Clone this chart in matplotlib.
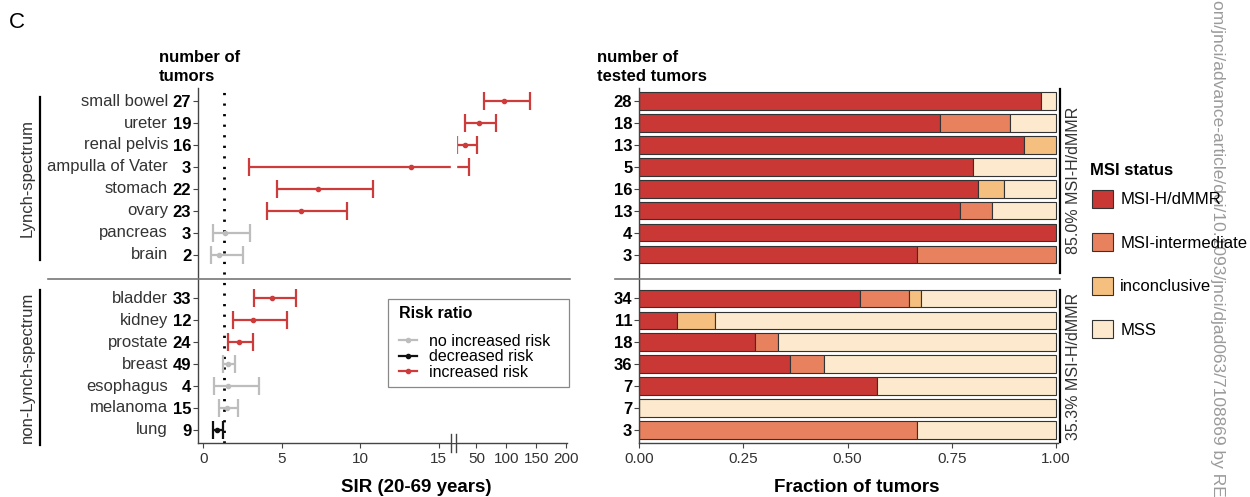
import numpy as np
import matplotlib
matplotlib.use("Agg")
import matplotlib.pyplot as plt
from matplotlib.lines import Line2D
from matplotlib.patches import Patch, Rectangle
from matplotlib.transforms import blended_transform_factory

plt.rcParams['font.family'] = ['Liberation Sans', 'DejaVu Sans']

# ---- data ----
tumor_names = ['small bowel', 'ureter', 'renal pelvis', 'ampulla of Vater', 'stomach',
               'ovary', 'pancreas', 'brain', 'bladder', 'kidney', 'prostate', 'breast',
               'esophagus', 'melanoma', 'lung']
groups = ['Lynch'] * 8 + ['non-Lynch'] * 7
n_tumors = [27, 19, 16, 3, 22, 23, 3, 2, 33, 12, 24, 49, 4, 15, 9]
sir = [95.5, 53.8, 31.7, 13.2, 7.28, 6.22, 1.38, 1.02, 4.35, 3.18, 2.29, 1.59, 1.59, 1.49, 0.89]
ci_low = [62.0, 31.7, 17.7, 2.91, 4.71, 4.04, 0.60, 0.51, 3.23, 1.87, 1.59, 1.27, 0.68, 1.00, 0.60]
ci_high = [138.8, 83.3, 50.5, 37.7, 10.78, 9.13, 2.95, 2.51, 5.90, 5.31, 3.18, 2.02, 3.56, 2.23, 1.23]
risk = ['increased'] * 6 + ['none', 'none'] + ['increased'] * 3 + ['none', 'none', 'none', 'decreased']
sir_ref = 1.34
sir_ticks = [0, 5, 10, 15, 50, 100, 150, 200]

n_tested = [28, 18, 13, 5, 16, 13, 4, 3, 34, 11, 18, 36, 7, 7, 3]
msi_h = [27, 13, 12, 4, 13, 10, 4, 2, 18, 1, 5, 13, 4, 0, 0]
msi_int = [0, 3, 0, 0, 0, 1, 0, 1, 4, 0, 1, 3, 0, 0, 2]
inconcl = [0, 0, 1, 0, 1, 0, 0, 0, 1, 1, 0, 0, 0, 0, 0]
mss = [1, 2, 0, 1, 2, 2, 0, 0, 11, 9, 12, 20, 3, 7, 1]
strip_labels = ['85.0% MSI-H/dMMR', '35.3% MSI-H/dMMR']

risk_colors = {'none': '#BDBDBD', 'decreased': '#111111', 'increased': '#CD3B3B'}
risk_labels = {'none': 'no increased risk', 'decreased': 'decreased risk',
               'increased': 'increased risk'}
msi_colors = ['#C93834', '#E8825E', '#F5BF7F', '#FDE9CD']
msi_names = ['MSI-H/dMMR', 'MSI-intermediate', 'inconclusive', 'MSS']

# row slots: one empty slot between the two groups
ypos = np.array([i for i in range(8)] + [i for i in range(9, 16)])


# broken x axis: linear up to ~16, compressed afterwards
def fwd(x):
    x = np.asarray(x, dtype=float)
    return np.where(x <= 15.8, x,
                    np.where(x < 16, 15.8 + (x - 15.8) * 1.5, 16.10 + (x - 16) * 0.0382))


def inv(u):
    u = np.asarray(u, dtype=float)
    return np.where(u <= 15.8, u,
                    np.where(u < 16.1, 15.8 + (u - 15.8) / 1.5, 16 + (u - 16.1) / 0.0382))


W, H = 1250, 497
fig = plt.figure(figsize=(W / 100, H / 100), dpi=100)

ax = fig.add_axes([198.3 / W, 1 - 443 / H, (567 - 198.3) / W, (443 - 88) / H])
axr = fig.add_axes([639.3 / W, 1 - 443 / H, (1058 - 639.3) / W, (443 - 88) / H])

# ---- left: SIR forest plot ----
ax.set_xscale('function', functions=(fwd, inv))
for y, m, lo, hi, r in zip(ypos, sir, ci_low, ci_high, risk):
    ax.errorbar(m, y, xerr=[[m - lo], [hi - m]], fmt='o', color=risk_colors[r],
                ms=3, elinewidth=1.6, capsize=6.5, capthick=1.6, zorder=2)
ax.axvline(sir_ref, color='black', lw=2, linestyle=(0, (0.8, 3)), zorder=1)
ax.axvspan(15.8, 16.0, color='white', zorder=3)
for xb in (15.8, 16.0):
    ax.plot([xb, xb], [-0.025, 0.025], color='#444', lw=1.0, clip_on=False,
            transform=blended_transform_factory(ax.transData, ax.transAxes), zorder=4)

ax.set_xlim(-0.32, 201)
ax.set_ylim(15.6, -0.6)
ax.set_xticks(sir_ticks)
ax.set_xticklabels([str(t) for t in sir_ticks])
ax.set_yticks(ypos)
ax.set_yticklabels([str(n) for n in n_tumors], fontweight='bold')
ax.tick_params(axis='y', length=3.5, pad=1.5, labelsize=12, color='#444', labelcolor='black')
ax.tick_params(axis='x', length=3.5, pad=3, labelsize=11, color='#444', labelcolor='#333')
ax.xaxis.set_minor_locator(plt.NullLocator())
for s in ('top', 'right'):
    ax.spines[s].set_visible(False)
for s in ('left', 'bottom'):
    ax.spines[s].set_color('#444')
    ax.spines[s].set_linewidth(1.0)

name_tr = blended_transform_factory(fig.transFigure, ax.transData)
for y, name in zip(ypos, tumor_names):
    ax.text(168 / W, y, name, transform=name_tr, ha='right', va='center',
            fontsize=12, color='#333')

# group labels
for label, y0, y1 in [('Lynch-spectrum', -0.2, 7.25), ('non-Lynch-spectrum', 8.6, 15.7)]:
    ax.add_line(Line2D([40 / W, 40 / W], [y0, y1], transform=name_tr, color='black',
                       lw=1.6, clip_on=False))
    ax.text(27 / W, (y0 + y1) / 2, label, transform=name_tr, rotation=90,
            ha='center', va='center', fontsize=12, color='#333')

# risk ratio legend: frame + title + entries
fig.add_artist(Rectangle((387.7 / W, 1 - 387.3 / H), (569.3 - 387.7) / W, 88 / H,
                         transform=fig.transFigure, facecolor='white', edgecolor='#888',
                         lw=0.9, zorder=5))
fig.text(399 / W, 1 - 314 / H, 'Risk ratio', ha='left', va='center', fontsize=11.5,
         fontweight='bold', zorder=6)
order = ['none', 'decreased', 'increased']
leg = fig.legend(handles=[Line2D([], [], color=risk_colors[k], marker='o', ms=3, lw=1.6)
                          for k in order],
                 labels=[risk_labels[k] for k in order], loc='upper left',
                 bbox_to_anchor=(399 / W, 1 - 334 / H), fontsize=11.5, frameon=False,
                 handlelength=1.1, labelspacing=0.02, borderpad=0, borderaxespad=0,
                 handletextpad=0.75)
leg.set_zorder(6)

# ---- right: stacked MSI fractions ----
tested = np.array(n_tested, dtype=float)
left = np.zeros(len(tested))
for counts, col in zip([msi_h, msi_int, inconcl, mss], msi_colors):
    frac = np.array(counts) / tested
    keep = frac > 0
    axr.barh(ypos[keep], frac[keep], left=left[keep], height=0.8, color=col,
             edgecolor='#333', linewidth=0.8)
    left += frac

axr.set_xlim(0, 1.005)
axr.set_ylim(15.6, -0.6)
axr.set_xticks([0, 0.25, 0.5, 0.75, 1.0])
axr.set_xticklabels(['0.00', '0.25', '0.50', '0.75', '1.00'])
axr.set_yticks(ypos)
axr.set_yticklabels([str(n) for n in n_tested], fontweight='bold')
axr.tick_params(axis='y', length=3.5, pad=1.5, labelsize=12, color='#444', labelcolor='black')
axr.tick_params(axis='x', length=3.5, pad=3, labelsize=11, color='#444', labelcolor='#333')
for s in ('top', 'right'):
    axr.spines[s].set_visible(False)
for s in ('left', 'bottom'):
    axr.spines[s].set_color('#444')
    axr.spines[s].set_linewidth(1.0)

strip_tr = blended_transform_factory(fig.transFigure, axr.transData)
for label, y0, y1 in zip(strip_labels, [-0.55, 8.62], [7.82, 15.55]):
    axr.add_line(Line2D([1060 / W, 1060 / W], [y0, y1], transform=strip_tr,
                        color='black', lw=1.6, clip_on=False))
    axr.text(1073 / W, (y0 + y1) / 2, label, transform=strip_tr, rotation=90,
             ha='center', va='center', fontsize=11.5, color='#333')

# MSI status legend
fig.text(1090 / W, 1 - 171 / H, 'MSI status', ha='left', va='center', fontsize=12,
         fontweight='bold')
fig.legend(handles=[Patch(facecolor=c, edgecolor='#333', linewidth=0.8) for c in msi_colors],
           labels=msi_names, loc='upper left', bbox_to_anchor=(1092 / W, 1 - 190 / H),
           fontsize=12, frameon=False, handlelength=1.25, handleheight=1.25,
           labelspacing=1.55, handletextpad=0.45, borderpad=0, borderaxespad=0)

# group separators
fig.add_artist(Line2D([48 / W, 570 / W], [1 - 279 / H] * 2, color='#777', lw=1.2))
fig.add_artist(Line2D([615 / W, 1060 / W], [1 - 279 / H] * 2, color='#777', lw=1.2))

# titles and axis labels
fig.text(159 / W, 1 - 50 / H, 'number of\ntumors', ha='left', va='top',
         fontsize=12, fontweight='bold', linespacing=1.3)
fig.text(597 / W, 1 - 50 / H, 'number of\ntested tumors', ha='left', va='top',
         fontsize=12, fontweight='bold', linespacing=1.3)
fig.text(416 / W, 1 - 487 / H, 'SIR (20-69 years)', ha='center', va='center',
         fontsize=13.5, fontweight='bold')
fig.text(857 / W, 1 - 487 / H, 'Fraction of tumors', ha='center', va='center',
         fontsize=13.5, fontweight='bold')
fig.text(9 / W, 1 - 22 / H, 'C', ha='left', va='center', fontsize=16)

fig.text(1217 / W, 1.0, 'om/jnci/advance-article/doi/10.1093/jnci/djad063/7108869 by RE',
         rotation=270, ha='center', va='top', fontsize=12.5, color='#9A9A9A')

fig.savefig('out.png', dpi=100)
